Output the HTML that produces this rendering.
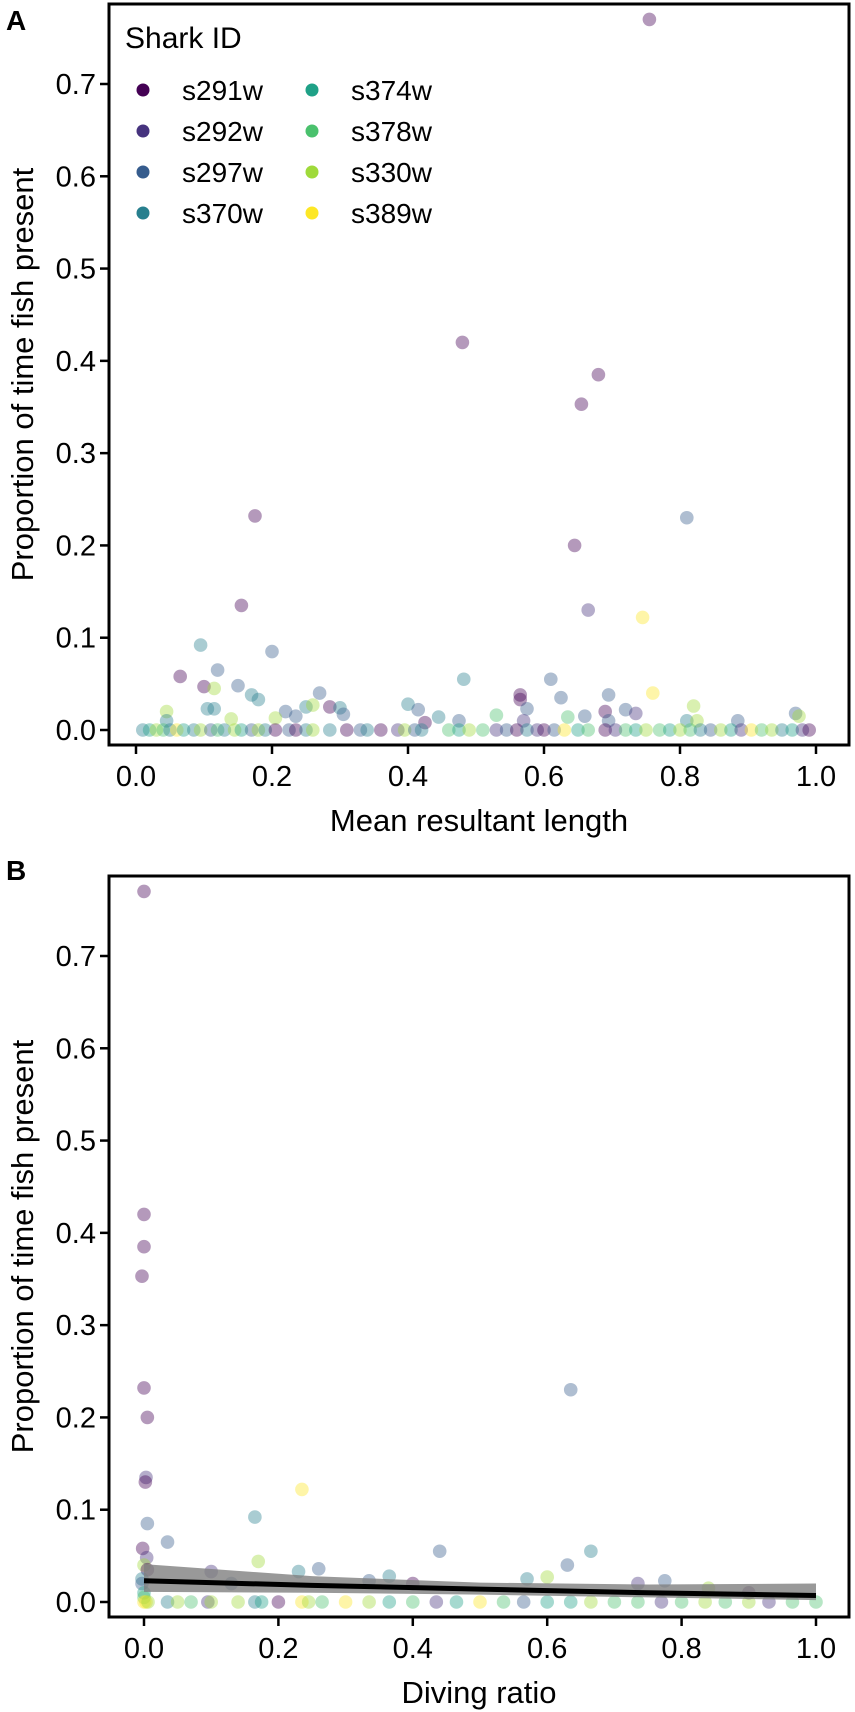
<!DOCTYPE html>
<html><head><meta charset="utf-8"><style>
html,body{margin:0;padding:0;background:#fff;}
svg{display:block;font-family:"Liberation Sans",Arial,sans-serif;}
</style></head><body>
<svg id="chart" width="855" height="1712" viewBox="0 0 855 1712"></svg>
<script>
const sharkIds = ["s291w","s292w","s297w","s370w","s374w","s378w","s330w","s389w"];
const sharkColors = ["#440154","#46337E","#365C8D","#277F8E","#1FA187","#4AC16D","#9FDA3A","#FDE725"];
const xTicks = [0,0.2,0.4,0.6,0.8,1.0];
const xTickLabels = ["0.0","0.2","0.4","0.6","0.8","1.0"];
const yTicks = [0,0.1,0.2,0.3,0.4,0.5,0.6,0.7];
const yTickLabels = ["0.0","0.1","0.2","0.3","0.4","0.5","0.6","0.7"];
// Panel A: [mean resultant length, proportion, shark index]
const pointsA = [
[0.755,0.77,0],[0.48,0.42,0],[0.68,0.385,0],[0.655,0.353,0],[0.645,0.2,0],[0.665,0.13,1],
[0.175,0.232,0],[0.155,0.135,0],[0.81,0.23,2],[0.745,0.122,7],[0.76,0.04,7],
[0.095,0.092,3],[0.2,0.085,2],[0.12,0.065,2],[0.065,0.058,0],[0.1,0.047,0],[0.115,0.045,6],
[0.15,0.048,2],[0.17,0.038,3],[0.18,0.033,3],[0.105,0.023,3],[0.115,0.023,3],[0.045,0.02,6],
[0.045,0.01,3],[0.22,0.02,2],[0.235,0.015,2],[0.25,0.025,3],[0.26,0.027,6],[0.27,0.04,2],
[0.285,0.025,0],[0.3,0.024,3],[0.305,0.017,2],[0.14,0.012,6],[0.205,0.013,6],[0.4,0.028,3],
[0.415,0.022,2],[0.425,0.008,0],[0.445,0.014,3],[0.482,0.055,3],[0.475,0.01,2],[0.53,0.016,5],
[0.565,0.038,0],[0.565,0.033,0],[0.575,0.023,2],[0.57,0.01,1],[0.61,0.055,2],[0.625,0.035,2],
[0.635,0.014,5],[0.66,0.015,2],[0.695,0.038,2],[0.69,0.02,0],[0.72,0.022,2],[0.735,0.018,1],
[0.82,0.026,6],[0.81,0.01,3],[0.825,0.01,6],[0.885,0.01,2],[0.97,0.018,2],[0.975,0.015,6],[0.695,0.01,2],
[0.01,0,3],[0.02,0,4],[0.03,0,6],[0.04,0,5],[0.05,0,3],[0.06,0,7],[0.07,0,4],[0.085,0,3],[0.095,0,6],
[0.11,0,2],[0.12,0,5],[0.13,0,3],[0.145,0,6],[0.155,0,4],[0.17,0,2],[0.18,0,6],[0.19,0,3],[0.205,0,0],
[0.225,0,2],[0.235,0,0],[0.25,0,3],[0.26,0,6],[0.285,0,3],[0.31,0,0],[0.33,0,2],[0.34,0,3],[0.36,0,0],
[0.385,0,1],[0.395,0,6],[0.41,0,2],[0.42,0,3],[0.46,0,5],[0.475,0,4],[0.49,0,6],[0.51,0,5],[0.53,0,1],
[0.545,0,2],[0.56,0,0],[0.575,0,3],[0.59,0,1],[0.6,0,0],[0.615,0,2],[0.63,0,7],[0.65,0,4],[0.665,0,5],
[0.69,0,0],[0.705,0,1],[0.72,0,5],[0.735,0,4],[0.75,0,6],[0.77,0,5],[0.785,0,4],[0.8,0,6],[0.815,0,5],
[0.83,0,3],[0.845,0,2],[0.86,0,6],[0.875,0,4],[0.89,0,1],[0.905,0,7],[0.92,0,5],[0.935,0,6],[0.95,0,3],
[0.965,0,4],[0.98,0,1],[0.99,0,0]
];
// Panel B: [diving ratio, proportion, shark index]
const pointsB = [
[0.0,0.77,0],[0.0,0.42,0],[0.0,0.385,0],[-0.003,0.353,0],[0.0,0.232,0],[0.005,0.2,0],[0.003,0.135,1],[0.002,0.13,0],
[0.005,0.085,2],[-0.002,0.058,0],[0.004,0.048,1],[0.0,0.04,6],[0.005,0.035,0],[-0.003,0.025,3],[-0.003,0.02,2],
[0.0,0.01,4],[0.0,0.005,5],[0.0,0,7],[0.003,0,7],[0.006,0,6],
[0.035,0.065,2],[0.165,0.092,3],[0.17,0.044,6],[0.1,0.033,1],[0.13,0.02,2],[0.235,0.122,7],[0.23,0.033,3],
[0.26,0.036,2],[0.365,0.028,3],[0.335,0.023,2],[0.44,0.055,2],[0.4,0.02,0],[0.635,0.23,2],[0.63,0.04,2],
[0.665,0.055,3],[0.57,0.025,3],[0.6,0.027,6],[0.735,0.02,1],[0.775,0.023,2],[0.84,0.015,6],[0.9,0.01,0],
[0.035,0,3],[0.05,0,6],[0.07,0,5],[0.095,0,1],[0.1,0,6],[0.14,0,6],[0.165,0,3],[0.175,0,4],[0.2,0,0],
[0.235,0,7],[0.245,0,6],[0.265,0,5],[0.3,0,7],[0.335,0,6],[0.365,0,4],[0.4,0,5],[0.435,0,1],[0.465,0,4],
[0.5,0,7],[0.535,0,5],[0.565,0,2],[0.6,0,4],[0.635,0,4],[0.665,0,6],[0.7,0,5],[0.735,0,5],[0.77,0,1],
[0.8,0,5],[0.835,0,6],[0.865,0,5],[0.9,0,6],[0.93,0,1],[0.965,0,5],[1.0,0,5]
];
const fitX = [0,0.25,0.5,0.75,1.0];
const fitY = [0.023,0.018,0.014,0.010,0.007];
const fitLo = [0.011,0.010,0.008,0.005,0.002];
const fitHi = [0.041,0.028,0.021,0.019,0.020];

const NS="http://www.w3.org/2000/svg";
const svg=document.getElementById('chart');
function mk(tag,attrs,parent){const e=document.createElementNS(NS,tag);for(const k in attrs)e.setAttribute(k,attrs[k]);(parent||svg).appendChild(e);return e;}

function panel(cfg){
  const g=mk('g',{});
  
  
  const xs=v=>cfg.x0+(cfg.x1-cfg.x0)*v;
  const ys=v=>cfg.y0-(cfg.y0-cfg.y7)*(v/0.7);
  const pg=mk('g',{},g);
  
  
  cfg.points.forEach(p=>{
    const c=mk('circle',{cx:xs(p[0]),cy:ys(p[1]),r:6.8,fill:sharkColors[p[2]],'fill-opacity':0.4},pg);
    
    
  });
  if(cfg.fit){
    let d='';
    fitX.forEach((x,i)=>{d+=(i?'L':'M')+xs(x)+','+ys(fitHi[i]);});
    for(let i=fitX.length-1;i>=0;i--)d+='L'+xs(fitX[i])+','+ys(fitLo[i]);
    const band=mk('path',{d:d+'Z',fill:'#7f7f7f','fill-opacity':0.8},g);
    
    
    let l='';
    fitX.forEach((x,i)=>{l+=(i?'L':'M')+xs(x)+','+ys(fitY[i]);});
    const line=mk('path',{d:l,fill:'none',stroke:'#000','stroke-width':5},g);
    
    
  }
  const frame=mk('rect',{x:cfg.left,y:cfg.top,width:cfg.right-cfg.left,height:cfg.bottom-cfg.top,fill:'none',stroke:'#000','stroke-width':3},g);
  
  
  yTicks.forEach((t,i)=>{
    const y=ys(t);
    const tk=mk('line',{x1:cfg.left-9,x2:cfg.left,y1:y,y2:y,stroke:'#000','stroke-width':2.5},g);
    
    
    const tx=mk('text',{x:cfg.left-13,y:y+10,'text-anchor':'end','font-size':29,fill:'#000'},g);
    tx.textContent=yTickLabels[i];
    
    
  });
  xTicks.forEach((t,i)=>{
    const x=xs(t);
    const tk=mk('line',{x1:x,x2:x,y1:cfg.bottom,y2:cfg.bottom+9,stroke:'#000','stroke-width':2.5},g);
    
    
    const tx=mk('text',{x:x,y:cfg.bottom+41,'text-anchor':'middle','font-size':29,fill:'#000'},g);
    tx.textContent=xTickLabels[i];
    
    
  });
  const xt=mk('text',{x:(cfg.left+cfg.right)/2,y:cfg.bottom+86,'text-anchor':'middle','font-size':31,fill:'#000'},g);
  xt.textContent=cfg.xTitle;
  
  
  const cy=(cfg.top+cfg.bottom)/2;
  const yt=mk('text',{x:0,y:0,transform:'translate(33,'+cy+') rotate(-90)','text-anchor':'middle','font-size':31,fill:'#000'},g);
  yt.textContent='Proportion of time fish present';
  
  
  const lab=mk('text',{x:cfg.labX,y:cfg.labY,'font-size':28,'font-weight':'bold',fill:'#000'},g);
  lab.textContent=cfg.label;
  
  
}

panel({name:'panel-a',left:109,right:849,top:4,bottom:745,x0:136,x1:816,y0:730,y7:84,points:pointsA,fit:false,xTitle:'Mean resultant length',label:'A',labX:6,labY:30});
panel({name:'panel-b',left:109,right:849,top:876,bottom:1617,x0:144,x1:816,y0:1602,y7:956,points:pointsB,fit:true,xTitle:'Diving ratio',label:'B',labX:6,labY:880});

const lg=mk('g',{});


const lt=mk('text',{x:125,y:48,'font-size':30,fill:'#000'},lg);
lt.textContent='Shark ID';


sharkIds.forEach((id,i)=>{
  const col=Math.floor(i/4),row=i%4;
  const dx=col?312:143, y=90+row*41;
  const e=mk('g',{},lg);
  
  
  mk('circle',{cx:dx,cy:y,r:6.5,fill:sharkColors[i]},e);
  const t=mk('text',{x:dx+39,y:y+10,'font-size':28,fill:'#000'},e);
  t.textContent=id;
});
</script>
</body></html>
